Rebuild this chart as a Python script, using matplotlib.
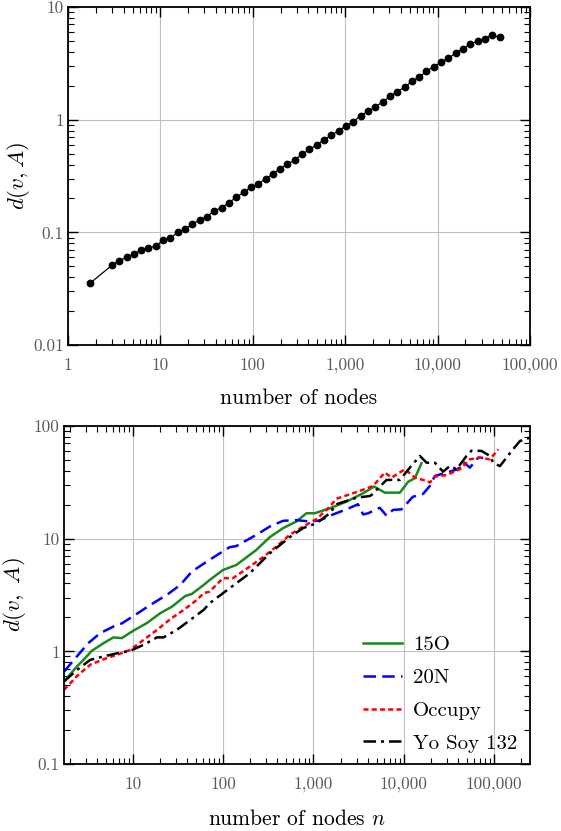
import matplotlib
matplotlib.use('Agg')
import matplotlib.pyplot as plt
from matplotlib.ticker import FixedLocator, FixedFormatter, LogLocator, NullFormatter

plt.rcParams['font.family'] = 'serif'
plt.rcParams['font.serif'] = ['cmr10', 'DejaVu Serif']
plt.rcParams['mathtext.fontset'] = 'cm'
plt.rcParams['axes.unicode_minus'] = False
plt.rcParams['axes.formatter.use_mathtext'] = True

# ---------------- top panel data ----------------
top_x = [1.728, 2.986, 3.583, 4.300, 5.160, 6.192, 7.430, 8.916, 10.70, 12.84,
         15.41, 18.49, 22.19, 26.62, 31.95, 38.34, 46.01, 55.21, 66.25, 79.50,
         95.40, 114.5, 137.4, 164.8, 197.8, 237.4, 284.9, 341.8, 410.2, 492.2,
         590.7, 708.8, 850.6, 1020.7, 1224.9, 1469.8, 1763.8, 2116.5, 2539.8, 3047.8,
         3657.3, 4388.8, 5266.5, 6319.8, 7583.8, 9100.4, 10920, 13104, 15725, 18870,
         22644, 27173, 32608, 39129, 46955]
top_y = [0.0353, 0.051, 0.056, 0.060, 0.064, 0.070, 0.072, 0.076, 0.085, 0.089,
         0.100, 0.107, 0.118, 0.129, 0.138, 0.155, 0.166, 0.183, 0.205, 0.226,
         0.252, 0.270, 0.297, 0.331, 0.367, 0.401, 0.441, 0.492, 0.545, 0.596,
         0.664, 0.726, 0.798, 0.879, 0.960, 1.086, 1.185, 1.297, 1.435, 1.61,
         1.77, 1.94, 2.19, 2.38, 2.69, 2.96, 3.23, 3.53, 3.88, 4.28,
         4.67, 5.00, 5.25, 5.66, 5.36]

# ---------------- bottom panel data ----------------
x_15O = [1.73, 2.39, 2.84, 3.51, 4.73, 6.1, 7.55, 10.2, 14.3, 20.1, 27.1, 38.1, 45,
         60.8, 70.8, 99.6, 140, 233, 328, 461, 648, 836, 1033, 1517, 2320, 3550,
         4700, 6170, 9060, 11200, 13270, 15740]
y_15O = [0.54, 0.73, 0.84, 1.01, 1.18, 1.33, 1.31, 1.53, 1.78, 2.18, 2.49, 3.10, 3.23,
         3.88, 4.29, 5.27, 5.84, 7.94, 10.3, 12.4, 14.2, 16.8, 16.8, 18.6, 21.3, 25.3,
         29.0, 25.6, 25.6, 32.0, 34.4, 46.7]

x_20N = [1.73, 2.2, 3.2, 4.35, 6.1, 7.55, 10.2, 15.6, 23.8, 33.5, 45, 70.8, 118, 140,
         233, 328, 461, 648, 910, 1175, 1650, 2320, 3120, 3550, 4030, 5430, 6440,
         7620, 9450, 12600, 16400, 19500, 22100, 29800, 38500, 41900, 45600, 54000,
         66800, 75900]
y_20N = [0.66, 0.83, 1.18, 1.45, 1.66, 1.77, 2.06, 2.58, 3.17, 3.88, 5.1, 6.5, 8.4, 8.6,
         10.8, 12.8, 14.4, 14.6, 14.2, 14.5, 16.4, 18.2, 20.2, 16.4, 16.8, 18.8, 16.0,
         18.0, 18.2, 23.5, 25.0, 29.4, 36.0, 38.6, 41.0, 42.7, 47.9, 42.7,
         52.4, 52.0]

x_occ = [1.73, 2.39, 3.37, 4.73, 6.65, 9.35, 13.1, 18.5, 26, 36.5, 51.3, 60.8, 70.8,
         99.6, 128.5, 197, 276, 389, 546, 767, 1079, 1517, 1795, 3260, 4580, 6170,
         7330, 10300, 13270, 17900, 19500, 22100, 29800, 41900, 54000, 69700, 90000,
         111400]
y_occ = [0.455, 0.60, 0.76, 0.85, 0.93, 1.03, 1.26, 1.55, 1.93, 2.33, 2.86, 3.28, 3.39,
         4.46, 4.46, 5.65, 6.84, 8.5, 10.8, 12.8, 14.9, 19.2, 22.6, 26.5, 29.4, 38.6,
         34.8, 41.3, 34.8, 32.5, 31.5, 35.5, 36.7, 41.3, 50.6, 52.4, 50.6,
         62.0]

x_yo = [1.73, 2.39, 3.37, 4.73, 6.65, 9.35, 13.1, 18.5, 21.9, 30.7, 43.3, 60.8, 70.8,
        118, 197, 328, 546, 767, 1079, 1517, 1795, 3000, 4210, 4400, 6440, 9060,
        11700, 15100, 17900, 22100, 27300, 32500, 38500, 49600, 56400, 72800, 90000,
        98000, 116200, 156600, 193700, 250000]
y_yo = [0.54, 0.68, 0.84, 0.90, 0.96, 1.01, 1.14, 1.33, 1.33, 1.55, 1.90, 2.33, 2.67,
        3.63, 4.93, 7.4, 10.3, 12.4, 13.7, 16.8, 20.2, 23.1, 23.9, 24.4, 33.2, 33.2,
        42.7, 54.2, 47.2, 47.2, 39.3, 44.2, 41.3, 54.2, 60.4, 60.0, 54.2,
        47.2, 44.0, 60.0, 73.6, 78.7]

series_labels = ['15O', '20N', 'Occupy', 'Yo Soy 132']

top_xticks = [1, 10, 100, 1000, 10000, 100000]
top_xticklabels = ['1', '10', '100', '1,000', '10,000', '100,000']
top_yticks = [0.01, 0.1, 1, 10]
top_yticklabels = ['0.01', '0.1', '1', '10']
bot_xticks = [10, 100, 1000, 10000, 100000]
bot_xticklabels = ['10', '100', '1,000', '10,000', '100,000']
bot_yticks = [0.1, 1, 10, 100]
bot_yticklabels = ['0.1', '1', '10', '100']

LABEL_GRAY = '#5a5a5a'


def style(ax, xt, xtl, yt, ytl):
    ax.set_xscale('log')
    ax.set_yscale('log')
    ax.xaxis.set_major_locator(FixedLocator(xt))
    ax.xaxis.set_major_formatter(FixedFormatter(xtl))
    ax.yaxis.set_major_locator(FixedLocator(yt))
    ax.yaxis.set_major_formatter(FixedFormatter(ytl))
    ax.xaxis.set_minor_locator(LogLocator(base=10, subs=range(2, 10), numticks=20))
    ax.yaxis.set_minor_locator(LogLocator(base=10, subs=range(2, 10), numticks=20))
    ax.xaxis.set_minor_formatter(NullFormatter())
    ax.yaxis.set_minor_formatter(NullFormatter())
    ax.tick_params(which='both', direction='in', top=True, right=True, color='black')
    ax.tick_params(which='major', length=7, width=1.0)
    ax.tick_params(which='minor', length=4, width=0.8)
    ax.tick_params(axis='both', labelsize=12.5, labelcolor=LABEL_GRAY)
    ax.tick_params(axis='x', pad=9)
    ax.tick_params(axis='y', pad=3)
    ax.grid(True, which='major', color='#c0c0c0', lw=0.8)
    ax.set_axisbelow(True)
    for s in ax.spines.values():
        s.set_linewidth(1.3)


fig = plt.figure(figsize=(5.61, 8.31), dpi=100)

ax1 = fig.add_axes([0.1212, 0.5848, 0.8235, 0.4068])
ax1.plot(top_x, top_y, color='black', lw=0.9, marker='o', ms=4.6)
ax1.set_xlim(1, 100000)
ax1.set_ylim(0.01, 10)
style(ax1, top_xticks, top_xticklabels, top_yticks, top_yticklabels)
ax1.set_xlabel('number of nodes', fontsize=15.5, labelpad=11)
ax1.set_ylabel(r'$d(v,A)$', fontsize=16.5, labelpad=1)

ax2 = fig.add_axes([0.1141, 0.0806, 0.8306, 0.4068])
ax2.plot(x_15O, y_15O, color='#1a8a1a', lw=1.8, ls='-', label=series_labels[0])
ax2.plot(x_20N, y_20N, color='#0000ff', lw=1.8, ls=(0, (5, 2.5)), label=series_labels[1])
ax2.plot(x_occ, y_occ, color='#ff0000', lw=1.8, ls=(0, (2, 1.3)), label=series_labels[2])
ax2.plot(x_yo, y_yo, color='black', lw=1.8, ls=(0, (5, 2, 1.2, 2)), label=series_labels[3])
ax2.set_xlim(1.73, 250000)
ax2.set_ylim(0.1, 100)
style(ax2, bot_xticks, bot_xticklabels, bot_yticks, bot_yticklabels)
ax2.set_xlabel(r'number of nodes $n$', fontsize=15.5, labelpad=12)
ax2.set_ylabel(r'$d(v,\ A)$', fontsize=16.5, labelpad=4)
ax2.legend(loc='lower right', frameon=False, fontsize=15, handlelength=1.9,
           labelspacing=0.68, handletextpad=0.5, borderaxespad=0.15,
           bbox_to_anchor=(0.997, 0.0))

fig.savefig('out.png', dpi=100)
